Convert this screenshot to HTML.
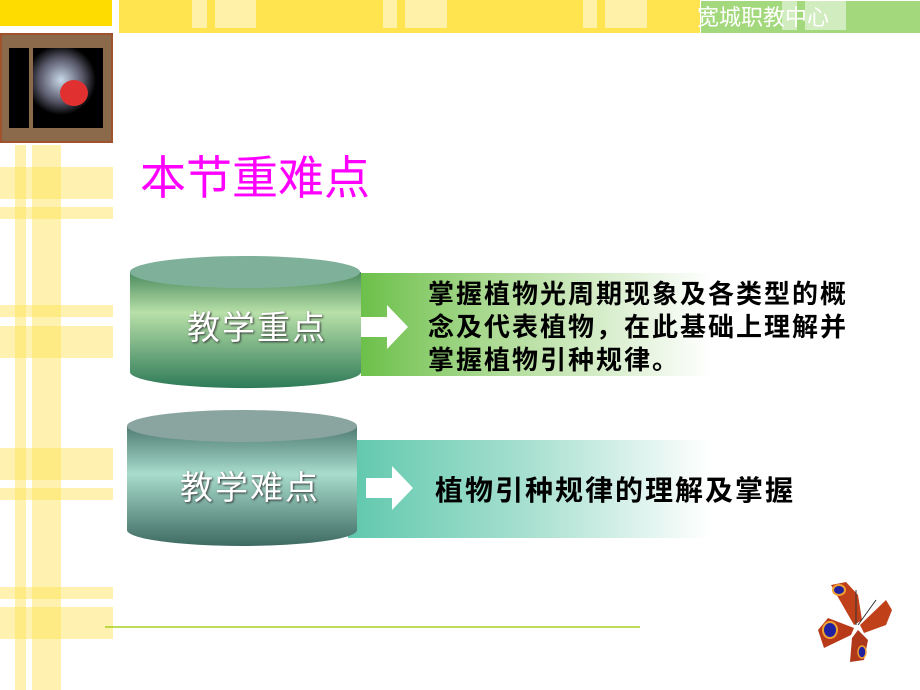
<!DOCTYPE html>
<html><head><meta charset="utf-8"><style>
body{margin:0;width:920px;height:690px;overflow:hidden;background:#fff;position:relative;font-family:"Liberation Sans","Noto Sans CJK SC",sans-serif}
div{position:absolute}
.s{background:rgba(255,226,80,0.45)}
.w{background:rgba(255,255,255,0.5)}
</style></head><body>
<div style="left:0;top:0;width:112px;height:26px;background:#ffdc00"></div>
<div style="left:119px;top:0;width:581px;height:33px;background:#ffe34f"></div>
<div class="w" style="left:192px;top:0;width:15px;height:28px"></div>
<div class="w" style="left:215px;top:0;width:41px;height:28px"></div>
<div class="w" style="left:383px;top:0;width:14px;height:28px"></div>
<div class="w" style="left:405px;top:0;width:42px;height:28px"></div>
<div class="w" style="left:583px;top:0;width:14px;height:28px"></div>
<div class="w" style="left:605px;top:0;width:42px;height:28px"></div>
<div style="left:701px;top:1px;width:219px;height:32px;background:#a3d97c"></div>
<div class="w" style="left:782px;top:0;width:15px;height:30px"></div>
<div class="w" style="left:805px;top:0;width:41px;height:30px"></div>
<div style="left:697px;top:5px;color:#fff;font-size:22px;line-height:26px">宽城职教中心</div>
<div style="left:0;top:33px;width:113px;height:110px;background:#8a6a4a;border:2px solid #a0522d;box-sizing:border-box"></div>
<div style="left:9px;top:48px;width:20px;height:80px;background:#000"></div>
<div style="left:33px;top:48px;width:70px;height:80px;background:radial-gradient(circle at 40% 40%,#c8d8e8 0,#556 35%,#000 55%)"></div>
<div style="left:60px;top:80px;width:28px;height:26px;border-radius:50%;background:#e03030"></div>
<div style="left:72px;top:80px;width:22px;height:24px;border-radius:50%;background:#2a8a3a;z-index:-1"></div>
<div class="s" style="left:15px;top:145px;width:11px;height:545px"></div>
<div class="s" style="left:32px;top:145px;width:29px;height:545px"></div>
<div class="s" style="left:0;top:167px;width:113px;height:32px"></div>
<div class="s" style="left:0;top:207px;width:113px;height:12px"></div>
<div class="s" style="left:0;top:305px;width:113px;height:12px"></div>
<div class="s" style="left:0;top:326px;width:113px;height:32px"></div>
<div class="s" style="left:0;top:448px;width:113px;height:32px"></div>
<div class="s" style="left:0;top:488px;width:113px;height:12px"></div>
<div class="s" style="left:0;top:587px;width:113px;height:12px"></div>
<div class="s" style="left:0;top:607px;width:113px;height:32px"></div>
<div style="left:140px;top:150px;color:#ff00ff;font-size:46px;line-height:56px">本节重难点</div>
<div style="left:361px;top:273px;width:350px;height:103px;background:linear-gradient(90deg,#6cc04a,#b0dc98 40%,#fff 100%)"></div>
<div style="left:348px;top:440px;width:362px;height:98px;background:linear-gradient(90deg,#5fc8ac,#a8e0d0 50%,#fff 100%)"></div>
<svg style="position:absolute;left:0;top:0" width="920" height="690">
<defs>
<linearGradient id="g1" x1="0" y1="0" x2="0" y2="1"><stop offset="0" stop-color="#4a8a5e"/><stop offset="0.35" stop-color="#b8e0a8"/><stop offset="1" stop-color="#2e7a58"/></linearGradient>
<linearGradient id="g2" x1="0" y1="0" x2="0" y2="1"><stop offset="0" stop-color="#4e7a72"/><stop offset="0.4" stop-color="#a8dccc"/><stop offset="1" stop-color="#3e6a62"/></linearGradient>
</defs>
<path d="M130 272 V372 A115 16 0 0 0 361 372 V272 Z" fill="url(#g1)"/>
<ellipse cx="245" cy="272" rx="115" ry="16" fill="#7fb09a"/>
<path d="M127 426 V530 A115 16 0 0 0 357 530 V426 Z" fill="url(#g2)"/>
<ellipse cx="242" cy="426" rx="115" ry="16" fill="#8aa4a0"/>
<path d="M361 317 H387 V305 L408 327 L387 349 V337 H361 Z" fill="#fff"/>
<path d="M366 478 H392 V466 L413 488 L392 510 V498 H366 Z" fill="#fff"/>
<line x1="105" y1="627" x2="640" y2="627" stroke="#a8d020" stroke-width="1.5"/>
<g transform="translate(856,630)">
<path d="M-2 -5 L-25 -45 L-10 -48 L2 -35 L6 -10 Z" fill="#c0401a"/>
<path d="M-2 -2 L-28 -12 L-38 0 L-32 18 L-5 5 Z" fill="#b83a18"/>
<path d="M4 -5 L30 -30 L36 -20 L30 -5 L8 3 Z" fill="#c0401a"/>
<path d="M2 0 L12 10 L8 30 L-6 32 L-4 8 Z" fill="#b0381a"/>
<ellipse cx="-17" cy="-40" rx="6" ry="5" fill="#2020a0" stroke="#f0a030" stroke-width="2"/>
<ellipse cx="-26" cy="0" rx="7" ry="8" fill="#2020a0" stroke="#f0a030" stroke-width="2"/>
<ellipse cx="6" cy="22" rx="4" ry="6" fill="#2020a0" stroke="#f0a030" stroke-width="1.5"/>
<line x1="0" y1="-5" x2="0" y2="-40" stroke="#333"/><line x1="2" y1="-5" x2="20" y2="-30" stroke="#333"/>
</g>
</svg>
<div style="left:187px;top:308px;color:#fff;font-size:33px;line-height:40px;letter-spacing:2px;text-shadow:1px 1px 2px #333">教学重点</div>
<div style="left:180px;top:468px;color:#fff;font-size:33px;line-height:40px;letter-spacing:2px;text-shadow:1px 1px 2px #333">教学难点</div>
<div style="left:428px;top:278px;color:#000;font-size:26px;line-height:33px;letter-spacing:2px;font-weight:bold;white-space:nowrap">掌握植物光周期现象及各类型的概<br>念及代表植物，在此基础上理解并<br>掌握植物引种规律。</div>
<div style="left:435px;top:473px;color:#000;font-size:28px;line-height:36px;letter-spacing:2px;font-weight:bold;white-space:nowrap">植物引种规律的理解及掌握</div>
</body></html>
